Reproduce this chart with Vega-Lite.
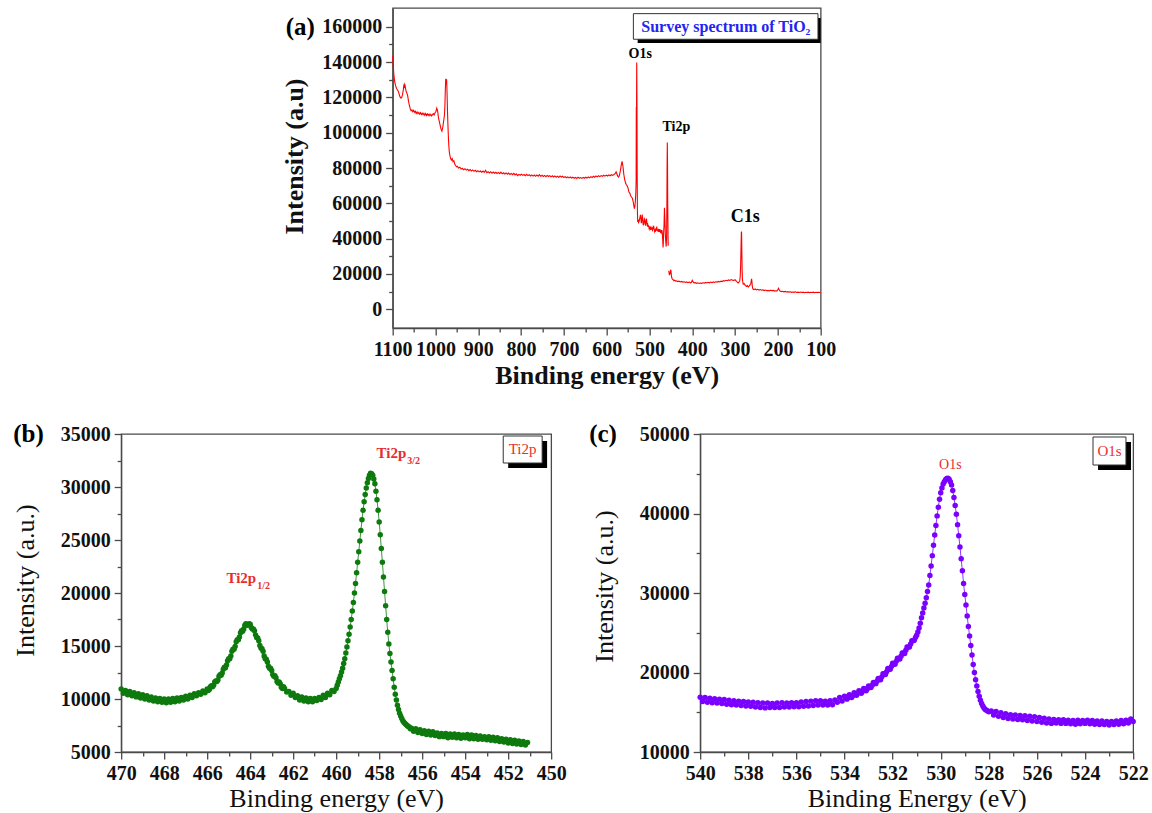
{
"$schema":"https://vega.github.io/schema/vega-lite/v6.json",
"background":"white",
"padding":{"left":11,"top":7,"right":0,"bottom":0},
"config":{
 "font":"Liberation Serif",
 "view":{"stroke":"#4a4a4a","strokeWidth":1.3},
 "axis":{"labelFont":"Liberation Serif","labelFontSize":20,"labelFontWeight":"bold","labelColor":"#111","titleFont":"Liberation Serif","titleColor":"#111","domainColor":"#4a4a4a","tickColor":"#4a4a4a","domainWidth":1.3,"tickWidth":1.3,"tickSize":7,"labelPadding":4,"grid":false,"labelFlush":false,"labelOverlap":false,"labelBound":false},
 "title":{"anchor":"start","frame":"group","offset":0,"baseline":"middle","font":"Liberation Serif","fontSize":25,"fontWeight":"bold","color":"#000"}
},
"datasets":{
"survey":[
{"E":1100,"I":143500,"s":1},{"E":1099,"I":139000,"s":1},{"E":1098,"I":135500,"s":1},{"E":1097,"I":132000,"s":1},{"E":1095,"I":128500,"s":1},{"E":1093,"I":126500,"s":1},{"E":1091,"I":125000,"s":1},{"E":1089,"I":124300,"s":1},{"E":1087,"I":123500,"s":1},{"E":1085,"I":122000,"s":1},{"E":1083,"I":120300,"s":1},{"E":1081,"I":119600,"s":1},{"E":1079,"I":119900,"s":1},{"E":1077,"I":121500,"s":1},{"E":1075,"I":124500,"s":1},{"E":1074,"I":126800,"s":1},{"E":1073,"I":127400,"s":1},{"E":1072,"I":126000,"s":1},{"E":1071,"I":126600,"s":1},{"E":1069,"I":123800,"s":1},{"E":1067,"I":122500,"s":1},{"E":1065,"I":121000,"s":1},{"E":1063,"I":117800,"s":1},{"E":1061,"I":115500,"s":1},{"E":1059,"I":113600,"s":1},{"E":1057,"I":112400,"s":1},{"E":1055,"I":112900,"s":1},{"E":1053,"I":111900,"s":1},{"E":1051,"I":112600,"s":1},{"E":1049,"I":111600,"s":1},{"E":1047,"I":112100,"s":1},{"E":1045,"I":110900,"s":1},{"E":1043,"I":111700,"s":1},{"E":1041,"I":110700,"s":1},{"E":1039,"I":111400,"s":1},{"E":1037,"I":110500,"s":1},{"E":1035,"I":111300,"s":1},{"E":1033,"I":110300,"s":1},{"E":1031,"I":111100,"s":1},{"E":1029,"I":110200,"s":1},{"E":1027,"I":110900,"s":1},{"E":1025,"I":109900,"s":1},{"E":1023,"I":110800,"s":1},{"E":1021,"I":109700,"s":1},{"E":1019,"I":110600,"s":1},{"E":1017,"I":109800,"s":1},{"E":1015,"I":110500,"s":1},{"E":1013,"I":109600,"s":1},{"E":1011,"I":110400,"s":1},{"E":1009,"I":109500,"s":1},{"E":1007,"I":110200,"s":1},{"E":1005,"I":110800,"s":1},{"E":1003,"I":110100,"s":1},{"E":1001,"I":111300,"s":1},{"E":999,"I":112000,"s":1},{"E":997,"I":113800,"s":1},{"E":995,"I":112300,"s":1},{"E":993,"I":108500,"s":1},{"E":991,"I":106300,"s":1},{"E":989,"I":104200,"s":1},{"E":987,"I":102000,"s":1},{"E":985,"I":100800,"s":1},{"E":983,"I":103000,"s":1},{"E":981,"I":106500,"s":1},{"E":979,"I":110000,"s":1},{"E":978,"I":115000,"s":1},{"E":977,"I":124000,"s":1},{"E":976,"I":130500,"s":1},{"E":975,"I":127500,"s":1},{"E":974,"I":130200,"s":1},{"E":973,"I":123000,"s":1},{"E":972,"I":113000,"s":1},{"E":971,"I":105000,"s":1},{"E":970,"I":98500,"s":1},{"E":969,"I":93500,"s":1},{"E":968,"I":90000,"s":1},{"E":967,"I":88000,"s":1},{"E":965,"I":85600,"s":1},{"E":963,"I":84500,"s":1},{"E":961,"I":85300,"s":1},{"E":959,"I":83600,"s":1},{"E":957,"I":84100,"s":1},{"E":955,"I":82200,"s":1},{"E":953,"I":81400,"s":1},{"E":951,"I":80700,"s":1},{"E":949,"I":81000,"s":1},{"E":946,"I":80000,"s":1},{"E":943,"I":80400,"s":1},{"E":940,"I":79400,"s":1},{"E":937,"I":79800,"s":1},{"E":934,"I":79000,"s":1},{"E":931,"I":79600,"s":1},{"E":928,"I":78800,"s":1},{"E":925,"I":79300,"s":1},{"E":922,"I":78500,"s":1},{"E":919,"I":79100,"s":1},{"E":916,"I":78300,"s":1},{"E":913,"I":78900,"s":1},{"E":910,"I":78100,"s":1},{"E":907,"I":78700,"s":1},{"E":904,"I":77900,"s":1},{"E":901,"I":78500,"s":1},{"E":898,"I":77800,"s":1},{"E":895,"I":78300,"s":1},{"E":892,"I":77600,"s":1},{"E":889,"I":78300,"s":1},{"E":886,"I":77500,"s":1},{"E":883,"I":78700,"s":1},{"E":880,"I":77300,"s":1},{"E":877,"I":77900,"s":1},{"E":874,"I":77200,"s":1},{"E":871,"I":77900,"s":1},{"E":868,"I":77100,"s":1},{"E":865,"I":77700,"s":1},{"E":862,"I":77000,"s":1},{"E":859,"I":77600,"s":1},{"E":856,"I":76900,"s":1},{"E":853,"I":77500,"s":1},{"E":850,"I":76800,"s":1},{"E":847,"I":77700,"s":1},{"E":844,"I":76700,"s":1},{"E":841,"I":77300,"s":1},{"E":838,"I":76600,"s":1},{"E":835,"I":77200,"s":1},{"E":832,"I":76500,"s":1},{"E":829,"I":77100,"s":1},{"E":826,"I":76300,"s":1},{"E":823,"I":76900,"s":1},{"E":820,"I":76200,"s":1},{"E":817,"I":77000,"s":1},{"E":814,"I":76100,"s":1},{"E":811,"I":76700,"s":1},{"E":808,"I":75700,"s":1},{"E":805,"I":76400,"s":1},{"E":802,"I":75900,"s":1},{"E":799,"I":76500,"s":1},{"E":796,"I":75800,"s":1},{"E":793,"I":76300,"s":1},{"E":790,"I":75600,"s":1},{"E":787,"I":76400,"s":1},{"E":784,"I":75700,"s":1},{"E":781,"I":76200,"s":1},{"E":778,"I":75500,"s":1},{"E":775,"I":76100,"s":1},{"E":772,"I":75400,"s":1},{"E":769,"I":76000,"s":1},{"E":766,"I":75300,"s":1},{"E":763,"I":76000,"s":1},{"E":760,"I":75400,"s":1},{"E":757,"I":76200,"s":1},{"E":754,"I":75300,"s":1},{"E":751,"I":75900,"s":1},{"E":748,"I":75200,"s":1},{"E":745,"I":75800,"s":1},{"E":742,"I":75100,"s":1},{"E":739,"I":75800,"s":1},{"E":736,"I":75200,"s":1},{"E":733,"I":75700,"s":1},{"E":730,"I":75000,"s":1},{"E":727,"I":75600,"s":1},{"E":724,"I":74900,"s":1},{"E":721,"I":75500,"s":1},{"E":718,"I":74800,"s":1},{"E":715,"I":75400,"s":1},{"E":712,"I":74700,"s":1},{"E":709,"I":75500,"s":1},{"E":706,"I":74900,"s":1},{"E":703,"I":75300,"s":1},{"E":700,"I":74600,"s":1},{"E":697,"I":75100,"s":1},{"E":694,"I":74500,"s":1},{"E":691,"I":75000,"s":1},{"E":688,"I":74400,"s":1},{"E":685,"I":74900,"s":1},{"E":682,"I":74300,"s":1},{"E":679,"I":74800,"s":1},{"E":676,"I":74200,"s":1},{"E":673,"I":74700,"s":1},{"E":670,"I":74100,"s":1},{"E":667,"I":74800,"s":1},{"E":664,"I":74200,"s":1},{"E":661,"I":74600,"s":1},{"E":658,"I":74100,"s":1},{"E":655,"I":74700,"s":1},{"E":652,"I":74200,"s":1},{"E":649,"I":74800,"s":1},{"E":646,"I":74300,"s":1},{"E":643,"I":74900,"s":1},{"E":640,"I":74400,"s":1},{"E":637,"I":75100,"s":1},{"E":634,"I":74600,"s":1},{"E":631,"I":75300,"s":1},{"E":628,"I":74800,"s":1},{"E":625,"I":75500,"s":1},{"E":622,"I":75000,"s":1},{"E":619,"I":75600,"s":1},{"E":616,"I":75100,"s":1},{"E":613,"I":75700,"s":1},{"E":610,"I":75300,"s":1},{"E":607,"I":75900,"s":1},{"E":604,"I":75400,"s":1},{"E":601,"I":76000,"s":1},{"E":598,"I":75500,"s":1},{"E":595,"I":76100,"s":1},{"E":592,"I":75600,"s":1},{"E":589,"I":76200,"s":1},{"E":586,"I":75800,"s":1},{"E":583,"I":76300,"s":1},{"E":580,"I":76900,"s":1},{"E":578,"I":77800,"s":1},{"E":576,"I":76600,"s":1},{"E":574,"I":75300,"s":1},{"E":572,"I":74900,"s":1},{"E":570,"I":76000,"s":1},{"E":568,"I":78500,"s":1},{"E":566,"I":81500,"s":1},{"E":564,"I":83800,"s":1},{"E":562,"I":81000,"s":1},{"E":560,"I":76500,"s":1},{"E":558,"I":73500,"s":1},{"E":556,"I":71600,"s":1},{"E":554,"I":70500,"s":1},{"E":552,"I":69800,"s":1},{"E":550,"I":68600,"s":1},{"E":548,"I":66400,"s":1},{"E":546,"I":65800,"s":1},{"E":544,"I":64300,"s":1},{"E":542,"I":63600,"s":1},{"E":540,"I":62900,"s":1},{"E":538,"I":60800,"s":1},{"E":536,"I":57800,"s":1},{"E":535,"I":57000,"s":1},{"E":534,"I":58500,"s":1},{"E":533,"I":61000,"s":1},{"E":532,"I":65500,"s":1},{"E":531.2,"I":72000,"s":1},{"E":530.8,"I":114500,"s":1},{"E":530.4,"I":99000,"s":1},{"E":529.8,"I":139800,"s":1},{"E":529.3,"I":121000,"s":1},{"E":528.8,"I":82000,"s":1},{"E":528.2,"I":56000,"s":1},{"E":527.5,"I":49500,"s":1},{"E":526.5,"I":50800,"s":1},{"E":525.5,"I":49200,"s":1},{"E":524,"I":50000,"s":1},{"E":522.5,"I":51800,"s":1},{"E":521,"I":53500,"s":1},{"E":520,"I":51200,"s":1},{"E":519,"I":48700,"s":1},{"E":518,"I":50200,"s":1},{"E":517,"I":53600,"s":1},{"E":516,"I":51500,"s":1},{"E":515,"I":48400,"s":1},{"E":514,"I":47600,"s":1},{"E":513,"I":49300,"s":1},{"E":512,"I":51200,"s":1},{"E":511,"I":50700,"s":1},{"E":510,"I":48300,"s":1},{"E":509,"I":47400,"s":1},{"E":508,"I":49800,"s":1},{"E":507,"I":51400,"s":1},{"E":506,"I":49200,"s":1},{"E":505,"I":47600,"s":1},{"E":504,"I":48100,"s":1},{"E":503,"I":46700,"s":1},{"E":502,"I":47600,"s":1},{"E":501,"I":45900,"s":1},{"E":500,"I":46400,"s":1},{"E":499,"I":45300,"s":1},{"E":498,"I":46100,"s":1},{"E":497,"I":45000,"s":1},{"E":496,"I":46200,"s":1},{"E":495,"I":45600,"s":1},{"E":494,"I":45900,"s":1},{"E":493,"I":44800,"s":1},{"E":492,"I":45500,"s":1},{"E":491,"I":47000,"s":1},{"E":490,"I":46800,"s":1},{"E":489,"I":45200,"s":1},{"E":488,"I":44000,"s":1},{"E":487,"I":44700,"s":1},{"E":486,"I":43900,"s":1},{"E":485,"I":45800,"s":1},{"E":484,"I":44600,"s":1},{"E":483,"I":46800,"s":1},{"E":482,"I":44500,"s":1},{"E":481,"I":45300,"s":1},{"E":480,"I":43900,"s":1},{"E":479,"I":44900,"s":1},{"E":478,"I":44400,"s":1},{"E":477,"I":45400,"s":1},{"E":476,"I":43800,"s":1},{"E":475,"I":44600,"s":1},{"E":474,"I":43700,"s":1},{"E":473,"I":44200,"s":1},{"E":472,"I":43500,"s":1},{"E":471,"I":44800,"s":1},{"E":470,"I":43000,"s":1},{"E":469,"I":39000,"s":1},{"E":468.3,"I":35000,"s":1},{"E":467.6,"I":37500,"s":1},{"E":467,"I":43000,"s":1},{"E":466,"I":47500,"s":1},{"E":465,"I":57500,"s":1},{"E":464,"I":50500,"s":1},{"E":463,"I":42500,"s":1},{"E":462,"I":38500,"s":1},{"E":461,"I":35500,"s":1},{"E":460,"I":40500,"s":1},{"E":459.4,"I":56000,"s":1},{"E":458.9,"I":79000,"s":1},{"E":458.3,"I":94500,"s":1},{"E":457.8,"I":81000,"s":1},{"E":457.4,"I":60000,"s":1},{"E":457,"I":52500,"s":1},{"E":456.6,"I":40500,"s":1},{"E":456.3,"I":36000,"s":1},
{"E":455,"I":21800,"s":2},{"E":454.2,"I":20600,"s":2},{"E":453.5,"I":19600,"s":2},{"E":452.6,"I":19800,"s":2},{"E":451.5,"I":21000,"s":2},{"E":450.5,"I":22400,"s":2},{"E":449.8,"I":21800,"s":2},{"E":449,"I":19500,"s":2},{"E":448,"I":18000,"s":2},{"E":447,"I":17300,"s":2},{"E":446,"I":16900,"s":2},{"E":444.5,"I":16700,"s":2},{"E":443,"I":16200,"s":2},{"E":441,"I":16500,"s":2},{"E":439,"I":15900,"s":2},{"E":437,"I":16100,"s":2},{"E":434,"I":15700,"s":2},{"E":431,"I":15900,"s":2},{"E":428,"I":15500,"s":2},{"E":425,"I":15800,"s":2},{"E":422,"I":15400,"s":2},{"E":419,"I":15600,"s":2},{"E":416,"I":15200,"s":2},{"E":413,"I":15500,"s":2},{"E":410,"I":15100,"s":2},{"E":407,"I":15400,"s":2},{"E":404,"I":15000,"s":2},{"E":402,"I":15300,"s":2},{"E":400,"I":16400,"s":2},{"E":398,"I":15500,"s":2},{"E":396,"I":14900,"s":2},{"E":393,"I":15100,"s":2},{"E":390,"I":14700,"s":2},{"E":387,"I":15000,"s":2},{"E":384,"I":14600,"s":2},{"E":381,"I":14900,"s":2},{"E":378,"I":14700,"s":2},{"E":375,"I":15000,"s":2},{"E":372,"I":14800,"s":2},{"E":369,"I":15200,"s":2},{"E":366,"I":14900,"s":2},{"E":363,"I":15300,"s":2},{"E":360,"I":15000,"s":2},{"E":357,"I":15400,"s":2},{"E":354,"I":15100,"s":2},{"E":351,"I":15500,"s":2},{"E":348,"I":15200,"s":2},{"E":345,"I":15600,"s":2},{"E":342,"I":15400,"s":2},{"E":339,"I":15800,"s":2},{"E":336,"I":15500,"s":2},{"E":333,"I":15900,"s":2},{"E":330,"I":15700,"s":2},{"E":327,"I":16200,"s":2},{"E":324,"I":16000,"s":2},{"E":321,"I":16400,"s":2},{"E":318,"I":16200,"s":2},{"E":315,"I":16600,"s":2},{"E":312,"I":16300,"s":2},{"E":309,"I":16800,"s":2},{"E":306,"I":16500,"s":2},{"E":303,"I":16300,"s":2},{"E":300,"I":16700,"s":2},{"E":297,"I":16000,"s":2},{"E":295,"I":15400,"s":2},{"E":293,"I":14900,"s":2},{"E":291,"I":15400,"s":2},{"E":289,"I":16200,"s":2},{"E":288,"I":18500,"s":2},{"E":287,"I":25000,"s":2},{"E":286,"I":36000,"s":2},{"E":285.3,"I":44000,"s":2},{"E":284.8,"I":43500,"s":2},{"E":284.2,"I":33000,"s":2},{"E":283.5,"I":22000,"s":2},{"E":282.8,"I":17000,"s":2},{"E":282,"I":15500,"s":2},{"E":281,"I":14300,"s":2},{"E":279,"I":14600,"s":2},{"E":277,"I":13800,"s":2},{"E":275,"I":13300,"s":2},{"E":273,"I":12900,"s":2},{"E":271,"I":13400,"s":2},{"E":269,"I":12700,"s":2},{"E":267,"I":13100,"s":2},{"E":265,"I":13800,"s":2},{"E":263,"I":14800,"s":2},{"E":262,"I":16500,"s":2},{"E":261.4,"I":17200,"s":2},{"E":260.6,"I":15500,"s":2},{"E":259.8,"I":13200,"s":2},{"E":259,"I":12000,"s":2},{"E":257.5,"I":11300,"s":2},{"E":256,"I":11100,"s":2},{"E":253,"I":11500,"s":2},{"E":250,"I":11000,"s":2},{"E":247,"I":11300,"s":2},{"E":244,"I":10900,"s":2},{"E":241,"I":11200,"s":2},{"E":238,"I":10800,"s":2},{"E":235,"I":11000,"s":2},{"E":232,"I":10600,"s":2},{"E":229,"I":10900,"s":2},{"E":226,"I":10500,"s":2},{"E":223,"I":10700,"s":2},{"E":220,"I":10400,"s":2},{"E":217,"I":10800,"s":2},{"E":214,"I":10500,"s":2},{"E":211,"I":10700,"s":2},{"E":208,"I":10300,"s":2},{"E":205,"I":10500,"s":2},{"E":202,"I":10400,"s":2},{"E":200,"I":11200,"s":2},{"E":198.5,"I":11900,"s":2},{"E":197,"I":11000,"s":2},{"E":195,"I":10300,"s":2},{"E":192,"I":10000,"s":2},{"E":189,"I":10200,"s":2},{"E":186,"I":9900,"s":2},{"E":183,"I":10100,"s":2},{"E":180,"I":9800,"s":2},{"E":177,"I":10000,"s":2},{"E":174,"I":9700,"s":2},{"E":171,"I":9900,"s":2},{"E":168,"I":9600,"s":2},{"E":165,"I":9800,"s":2},{"E":162,"I":9600,"s":2},{"E":159,"I":9900,"s":2},{"E":156,"I":9500,"s":2},{"E":153,"I":9700,"s":2},{"E":150,"I":9500,"s":2},{"E":147,"I":9800,"s":2},{"E":144,"I":9500,"s":2},{"E":141,"I":9700,"s":2},{"E":138,"I":9400,"s":2},{"E":135,"I":9600,"s":2},{"E":132,"I":9500,"s":2},{"E":129,"I":9700,"s":2},{"E":126,"I":9400,"s":2},{"E":123,"I":9600,"s":2},{"E":120,"I":9500,"s":2},{"E":117,"I":9700,"s":2},{"E":114,"I":9400,"s":2},{"E":111,"I":9600,"s":2},{"E":108,"I":9500,"s":2},{"E":105,"I":9600,"s":2},{"E":102,"I":9500,"s":2},{"E":100,"I":9600,"s":2}
],
"ti2p":[
{"E":470.0,"I":10950},{"E":469.9,"I":10550},{"E":469.8,"I":10800},{"E":469.7,"I":10400},{"E":469.6,"I":10700},{"E":469.5,"I":10300},{"E":469.4,"I":10600},{"E":469.3,"I":10200},{"E":469.2,"I":10500},{"E":469.1,"I":10100},{"E":469.0,"I":10400},{"E":468.9,"I":10000},{"E":468.8,"I":10300},{"E":468.7,"I":9900},{"E":468.6,"I":10200},{"E":468.5,"I":9800},{"E":468.4,"I":10100},{"E":468.3,"I":9750},{"E":468.2,"I":10050},{"E":468.1,"I":9700},{"E":468.0,"I":10000},{"E":467.9,"I":9650},{"E":467.8,"I":10000},{"E":467.7,"I":9700},{"E":467.6,"I":10050},{"E":467.5,"I":9750},{"E":467.4,"I":10100},{"E":467.3,"I":9800},{"E":467.2,"I":10150},{"E":467.1,"I":9900},{"E":467.0,"I":10250},{"E":466.9,"I":10000},{"E":466.8,"I":10350},{"E":466.7,"I":10150},{"E":466.6,"I":10500},{"E":466.5,"I":10300},{"E":466.4,"I":10600},{"E":466.3,"I":10450},{"E":466.2,"I":10750},{"E":466.1,"I":10600},{"E":466.0,"I":10950},{"E":465.9,"I":10900},{"E":465.8,"I":11250},{"E":465.7,"I":11300},{"E":465.6,"I":11700},{"E":465.5,"I":11800},{"E":465.4,"I":12300},{"E":465.3,"I":12450},{"E":465.2,"I":13000},{"E":465.1,"I":13200},{"E":465.0,"I":13800},{"E":464.9,"I":14050},{"E":464.8,"I":14700},{"E":464.7,"I":14950},{"E":464.6,"I":15600},{"E":464.5,"I":15850},{"E":464.4,"I":16450},{"E":464.3,"I":16600},{"E":464.2,"I":17100},{"E":464.1,"I":17000},{"E":464.0,"I":17050},{"E":463.9,"I":16600},{"E":463.8,"I":16450},{"E":463.7,"I":15800},{"E":463.6,"I":15500},{"E":463.5,"I":14800},{"E":463.4,"I":14500},{"E":463.3,"I":13800},{"E":463.2,"I":13500},{"E":463.1,"I":12900},{"E":463.0,"I":12700},{"E":462.9,"I":12150},{"E":462.8,"I":12000},{"E":462.7,"I":11500},{"E":462.6,"I":11450},{"E":462.5,"I":11000},{"E":462.4,"I":11000},{"E":462.3,"I":10650},{"E":462.2,"I":10700},{"E":462.1,"I":10350},{"E":462.0,"I":10550},{"E":461.9,"I":10150},{"E":461.8,"I":10300},{"E":461.7,"I":9900},{"E":461.6,"I":10200},{"E":461.5,"I":9800},{"E":461.4,"I":10100},{"E":461.3,"I":9750},{"E":461.2,"I":10050},{"E":461.1,"I":9750},{"E":461.0,"I":10050},{"E":460.9,"I":9850},{"E":460.8,"I":10150},{"E":460.7,"I":9950},{"E":460.6,"I":10350},{"E":460.5,"I":10150},{"E":460.4,"I":10550},{"E":460.3,"I":10400},{"E":460.2,"I":10800},{"E":460.1,"I":10700},{"E":460.0,"I":11000},{"E":459.95,"I":11300},{"E":459.9,"I":11600},{"E":459.85,"I":11900},{"E":459.8,"I":12200},{"E":459.75,"I":12550},{"E":459.7,"I":12900},{"E":459.65,"I":13350},{"E":459.6,"I":13800},{"E":459.55,"I":14350},{"E":459.5,"I":14900},{"E":459.45,"I":15500},{"E":459.4,"I":16100},{"E":459.35,"I":16800},{"E":459.3,"I":17500},{"E":459.25,"I":18300},{"E":459.2,"I":19100},{"E":459.15,"I":20000},{"E":459.1,"I":20900},{"E":459.05,"I":21900},{"E":459.0,"I":22900},{"E":458.95,"I":23900},{"E":458.9,"I":24900},{"E":458.85,"I":25900},{"E":458.8,"I":26900},{"E":458.75,"I":27800},{"E":458.7,"I":28600},{"E":458.65,"I":29300},{"E":458.6,"I":29900},{"E":458.55,"I":30400},{"E":458.5,"I":30800},{"E":458.45,"I":31100},{"E":458.4,"I":31300},{"E":458.35,"I":31250},{"E":458.3,"I":31100},{"E":458.25,"I":30750},{"E":458.2,"I":30300},{"E":458.15,"I":29600},{"E":458.1,"I":28800},{"E":458.05,"I":27800},{"E":458.0,"I":26700},{"E":457.95,"I":25500},{"E":457.9,"I":24200},{"E":457.85,"I":22900},{"E":457.8,"I":21500},{"E":457.75,"I":20150},{"E":457.7,"I":18800},{"E":457.65,"I":17500},{"E":457.6,"I":16300},{"E":457.55,"I":15200},{"E":457.5,"I":14300},{"E":457.45,"I":13500},{"E":457.4,"I":12700},{"E":457.35,"I":11900},{"E":457.3,"I":11100},{"E":457.25,"I":10450},{"E":457.2,"I":9900},{"E":457.15,"I":9400},{"E":457.1,"I":9000},{"E":457.05,"I":8650},{"E":457.0,"I":8400},{"E":456.95,"I":8150},{"E":456.9,"I":7950},{"E":456.85,"I":7800},{"E":456.8,"I":7700},{"E":456.75,"I":7600},{"E":456.7,"I":7500},{"E":456.65,"I":7400},{"E":456.6,"I":7350},{"E":456.55,"I":7200},{"E":456.5,"I":7250},{"E":456.4,"I":6950},{"E":456.3,"I":7200},{"E":456.2,"I":6850},{"E":456.1,"I":7100},{"E":456.0,"I":6750},{"E":455.9,"I":7000},{"E":455.8,"I":6650},{"E":455.7,"I":6950},{"E":455.6,"I":6600},{"E":455.5,"I":6900},{"E":455.4,"I":6550},{"E":455.3,"I":6800},{"E":455.2,"I":6450},{"E":455.1,"I":6750},{"E":455.0,"I":6450},{"E":454.9,"I":6750},{"E":454.8,"I":6350},{"E":454.7,"I":6700},{"E":454.6,"I":6400},{"E":454.5,"I":6700},{"E":454.4,"I":6350},{"E":454.3,"I":6650},{"E":454.2,"I":6300},{"E":454.1,"I":6600},{"E":454.0,"I":6350},{"E":453.9,"I":6650},{"E":453.8,"I":6250},{"E":453.7,"I":6600},{"E":453.6,"I":6250},{"E":453.5,"I":6550},{"E":453.4,"I":6200},{"E":453.3,"I":6500},{"E":453.2,"I":6200},{"E":453.1,"I":6450},{"E":453.0,"I":6150},{"E":452.9,"I":6450},{"E":452.8,"I":6100},{"E":452.7,"I":6400},{"E":452.6,"I":6050},{"E":452.5,"I":6350},{"E":452.4,"I":6000},{"E":452.3,"I":6250},{"E":452.2,"I":5950},{"E":452.1,"I":6200},{"E":452.0,"I":5850},{"E":451.9,"I":6150},{"E":451.8,"I":5800},{"E":451.7,"I":6100},{"E":451.6,"I":5750},{"E":451.5,"I":6050},{"E":451.4,"I":5700},{"E":451.3,"I":6000},{"E":451.2,"I":5650},{"E":451.1,"I":5900},
{"E":465.95,"I":10800},{"E":465.85,"I":11150},{"E":465.75,"I":11150},{"E":465.65,"I":11600},{"E":465.55,"I":11650},{"E":465.45,"I":12150},{"E":465.35,"I":12250},{"E":465.25,"I":12800},{"E":465.15,"I":12950},{"E":465.05,"I":13600},{"E":464.95,"I":13800},{"E":464.85,"I":14500},{"E":464.75,"I":14700},{"E":464.65,"I":15400},{"E":464.55,"I":15600},{"E":464.45,"I":16250},{"E":464.35,"I":16400},{"E":464.25,"I":16950},{"E":464.15,"I":16950},{"E":464.05,"I":17100},{"E":463.95,"I":16750},{"E":463.85,"I":16600},{"E":463.75,"I":16050},{"E":463.65,"I":15750},{"E":463.55,"I":15050},{"E":463.45,"I":14750},{"E":463.35,"I":14050},{"E":463.25,"I":13750},{"E":463.15,"I":13100},{"E":463.05,"I":12900},{"E":462.95,"I":12300},{"E":462.85,"I":12200},{"E":462.75,"I":11650},{"E":462.65,"I":11600},{"E":462.55,"I":11100},{"E":462.45,"I":11150}
],
"o1s":[
{"E":540.0,"I":16900},{"E":539.9,"I":16350},{"E":539.8,"I":16850},{"E":539.7,"I":16250},{"E":539.6,"I":16750},{"E":539.5,"I":16200},{"E":539.4,"I":16700},{"E":539.3,"I":16150},{"E":539.2,"I":16650},{"E":539.1,"I":16100},{"E":539.0,"I":16600},{"E":538.9,"I":16000},{"E":538.8,"I":16500},{"E":538.7,"I":15950},{"E":538.6,"I":16450},{"E":538.5,"I":15900},{"E":538.4,"I":16400},{"E":538.3,"I":15850},{"E":538.2,"I":16350},{"E":538.1,"I":15800},{"E":538.0,"I":16300},{"E":537.9,"I":15750},{"E":537.8,"I":16250},{"E":537.7,"I":15650},{"E":537.6,"I":16200},{"E":537.5,"I":15600},{"E":537.4,"I":16150},{"E":537.3,"I":15550},{"E":537.2,"I":16150},{"E":537.1,"I":15600},{"E":537.0,"I":16100},{"E":536.9,"I":15600},{"E":536.8,"I":16150},{"E":536.7,"I":15600},{"E":536.6,"I":16200},{"E":536.5,"I":15650},{"E":536.4,"I":16150},{"E":536.3,"I":15650},{"E":536.2,"I":16200},{"E":536.1,"I":15700},{"E":536.0,"I":16200},{"E":535.9,"I":15700},{"E":535.8,"I":16300},{"E":535.7,"I":15750},{"E":535.6,"I":16350},{"E":535.5,"I":15800},{"E":535.4,"I":16400},{"E":535.3,"I":15850},{"E":535.2,"I":16450},{"E":535.1,"I":15900},{"E":535.0,"I":16450},{"E":534.9,"I":15900},{"E":534.8,"I":16400},{"E":534.7,"I":15900},{"E":534.6,"I":16450},{"E":534.5,"I":15950},{"E":534.4,"I":16550},{"E":534.3,"I":16250},{"E":534.2,"I":16850},{"E":534.1,"I":16400},{"E":534.0,"I":17000},{"E":533.9,"I":16650},{"E":533.8,"I":17200},{"E":533.7,"I":16850},{"E":533.6,"I":17450},{"E":533.5,"I":17150},{"E":533.4,"I":17700},{"E":533.3,"I":17400},{"E":533.2,"I":18000},{"E":533.1,"I":17700},{"E":533.0,"I":18300},{"E":532.9,"I":18100},{"E":532.8,"I":18750},{"E":532.7,"I":18600},{"E":532.6,"I":19250},{"E":532.5,"I":19100},{"E":532.4,"I":19850},{"E":532.3,"I":19750},{"E":532.2,"I":20500},{"E":532.1,"I":20400},{"E":532.0,"I":21150},{"E":531.9,"I":21050},{"E":531.8,"I":21800},{"E":531.7,"I":21700},{"E":531.6,"I":22450},{"E":531.5,"I":22400},{"E":531.4,"I":23200},{"E":531.3,"I":23200},{"E":531.2,"I":24000},{"E":531.1,"I":24050},{"E":531.0,"I":24700},{"E":530.95,"I":25100},{"E":530.9,"I":25600},{"E":530.85,"I":26200},{"E":530.8,"I":26900},{"E":530.75,"I":27500},{"E":530.7,"I":28100},{"E":530.65,"I":28700},{"E":530.6,"I":29400},{"E":530.55,"I":30200},{"E":530.5,"I":31000},{"E":530.45,"I":32200},{"E":530.4,"I":33400},{"E":530.35,"I":34700},{"E":530.3,"I":36000},{"E":530.25,"I":37300},{"E":530.2,"I":38500},{"E":530.15,"I":39700},{"E":530.1,"I":40800},{"E":530.05,"I":41800},{"E":530.0,"I":42600},{"E":529.95,"I":43200},{"E":529.9,"I":43700},{"E":529.85,"I":44000},{"E":529.8,"I":44250},{"E":529.75,"I":44400},{"E":529.7,"I":44450},{"E":529.65,"I":44300},{"E":529.6,"I":44000},{"E":529.55,"I":43600},{"E":529.5,"I":42900},{"E":529.45,"I":42000},{"E":529.4,"I":41000},{"E":529.35,"I":39900},{"E":529.3,"I":38600},{"E":529.25,"I":37200},{"E":529.2,"I":35800},{"E":529.15,"I":34300},{"E":529.1,"I":32800},{"E":529.05,"I":31200},{"E":529.0,"I":29800},{"E":528.95,"I":28500},{"E":528.9,"I":27100},{"E":528.85,"I":25800},{"E":528.8,"I":24600},{"E":528.75,"I":23400},{"E":528.7,"I":22200},{"E":528.65,"I":21000},{"E":528.6,"I":20000},{"E":528.55,"I":19100},{"E":528.5,"I":18300},{"E":528.45,"I":17600},{"E":528.4,"I":17000},{"E":528.35,"I":16500},{"E":528.3,"I":16100},{"E":528.25,"I":15800},{"E":528.2,"I":15550},{"E":528.15,"I":15350},{"E":528.1,"I":15250},{"E":528.05,"I":15150},{"E":528.0,"I":15050},{"E":527.9,"I":15150},{"E":527.8,"I":14650},{"E":527.7,"I":15100},{"E":527.6,"I":14500},{"E":527.5,"I":14950},{"E":527.4,"I":14350},{"E":527.3,"I":14800},{"E":527.2,"I":14200},{"E":527.1,"I":14700},{"E":527.0,"I":14150},{"E":526.9,"I":14650},{"E":526.8,"I":14100},{"E":526.7,"I":14600},{"E":526.6,"I":14050},{"E":526.5,"I":14550},{"E":526.4,"I":13950},{"E":526.3,"I":14500},{"E":526.2,"I":13900},{"E":526.1,"I":14450},{"E":526.0,"I":13850},{"E":525.9,"I":14350},{"E":525.8,"I":13750},{"E":525.7,"I":14250},{"E":525.6,"I":13650},{"E":525.5,"I":14150},{"E":525.4,"I":13600},{"E":525.3,"I":14100},{"E":525.2,"I":13650},{"E":525.1,"I":14050},{"E":525.0,"I":13600},{"E":524.9,"I":14050},{"E":524.8,"I":13600},{"E":524.7,"I":14000},{"E":524.6,"I":13550},{"E":524.5,"I":13950},{"E":524.4,"I":13500},{"E":524.3,"I":14000},{"E":524.2,"I":13550},{"E":524.1,"I":13950},{"E":524.0,"I":13600},{"E":523.9,"I":14000},{"E":523.8,"I":13550},{"E":523.7,"I":13950},{"E":523.6,"I":13500},{"E":523.5,"I":13900},{"E":523.4,"I":13450},{"E":523.3,"I":13900},{"E":523.2,"I":13450},{"E":523.1,"I":13850},{"E":523.0,"I":13400},{"E":522.9,"I":13850},{"E":522.8,"I":13450},{"E":522.7,"I":13900},{"E":522.6,"I":13500},{"E":522.5,"I":13950},{"E":522.4,"I":13550},{"E":522.3,"I":14000},{"E":522.2,"I":13650},{"E":522.1,"I":14150},{"E":522.0,"I":13850},
{"E":533.95,"I":16900},{"E":533.85,"I":16850},{"E":533.75,"I":17100},{"E":533.65,"I":17100},{"E":533.55,"I":17350},{"E":533.45,"I":17400},{"E":533.35,"I":17600},{"E":533.25,"I":17650},{"E":533.15,"I":17900},{"E":533.05,"I":17950},{"E":532.95,"I":18250},{"E":532.85,"I":18400},{"E":532.75,"I":18700},{"E":532.65,"I":18900},{"E":532.55,"I":19200},{"E":532.45,"I":19450},{"E":532.35,"I":19850},{"E":532.25,"I":20100},{"E":532.15,"I":20450},{"E":532.05,"I":20750},{"E":531.95,"I":21100},{"E":531.85,"I":21400},{"E":531.75,"I":21750},{"E":531.65,"I":22050},{"E":531.55,"I":22450},{"E":531.45,"I":22800},{"E":531.35,"I":23200},{"E":531.25,"I":23600},{"E":531.15,"I":24000},{"E":531.05,"I":24400}
],
"boxA":[{"SE1":527.6,"SE2":100,"SI1":165000,"SI2":150800,"BE1":537.6,"BE2":106.3,"BI1":167400,"BI2":152900,"TE":321.5,"TI":157200,"label":"Survey spectrum of TiO₂"}],
"labA":[{"E":521.5,"I":142500,"label":"O1s","big":false},{"E":437.1,"I":101000,"label":"Ti2p","big":false},{"E":276,"I":49700,"label":"C1s","big":true}],
"boxB":[{"SE1":452.0,"SE2":450.19,"SI1":34340,"SI2":31792,"BE1":452.23,"BE2":450.42,"BI1":34811,"BI2":32264,"TE":451.33,"TI":33540,"label":"Ti2p"}],
"labB":[{"E":456.74,"I":32736,"main":"Ti2p","sub":"3/2"},{"E":463.72,"I":20990,"main":"Ti2p","sub":"1/2"}],
"boxC":[{"SE1":523.46,"SE2":522.09,"SI1":48994,"SI2":45471,"BE1":523.67,"BE2":522.3,"BI1":49623,"BI2":46100,"TE":522.98,"TI":47860,"label":"O1s"}],
"labC":[{"E":529.6,"I":45622,"label":"O1s"}]
},
"center":true,
"spacing":32,
"vconcat":[
{
 "width":428,"height":320,
 "title":{"text":"(a)","dx":-107,"dy":36},
 "resolve":{"axis":{"x":"independent","y":"independent"}},
 "layer":[
  {"data":{"name":"survey"},"mark":{"type":"line","color":"#ff0000","strokeWidth":1.1},
   "encoding":{
    "x":{"field":"E","type":"quantitative","scale":{"domain":[100,1100],"reverse":true,"nice":false,"zero":false},
         "axis":{"orient":"bottom","values":[100,200,300,400,500,600,700,800,900,1000,1100],"format":"d","title":"Binding energy (eV)","titleFontSize":26,"titleFontWeight":"bold","titlePadding":3}},
    "y":{"field":"I","type":"quantitative","scale":{"domain":[-10600,170600],"nice":false,"zero":false},
         "axis":{"orient":"left","values":[0,20000,40000,60000,80000,100000,120000,140000,160000],"format":"d","title":"Intensity (a.u)","titleFontSize":26,"titleFontWeight":"bold","titlePadding":14,"titleY":148}},
    "detail":{"field":"s","type":"nominal"}}},
  {"data":{"name":"boxA"},"mark":{"type":"rect","color":"#000"},
   "encoding":{
    "x":{"field":"SE1","type":"quantitative","scale":{"domain":[100,1100],"reverse":true,"nice":false,"zero":false},
         "axis":{"orient":"bottom","values":[150,250,350,450,550,650,750,850,950,1050],"labels":false,"domain":false,"tickSize":4,"title":null}},
    "x2":{"field":"SE2"},
    "y":{"field":"SI1","type":"quantitative","scale":{"domain":[-10600,170600],"nice":false,"zero":false},
         "axis":{"orient":"left","values":[10000,30000,50000,70000,90000,110000,130000,150000],"labels":false,"domain":false,"tickSize":4,"title":null}},
    "y2":{"field":"SI2"}}},
  {"data":{"name":"boxA"},"mark":{"type":"rect","fill":"#fff","stroke":"#333","strokeWidth":1},
   "encoding":{
    "x":{"field":"BE1","type":"quantitative","scale":{"domain":[100,1100],"reverse":true,"nice":false,"zero":false},"axis":null},
    "x2":{"field":"BE2"},
    "y":{"field":"BI1","type":"quantitative","scale":{"domain":[-10600,170600],"nice":false,"zero":false},"axis":null},
    "y2":{"field":"BI2"}}},
  {"data":{"name":"boxA"},"mark":{"type":"text","color":"#2323f2","font":"Liberation Serif","fontWeight":"bold","fontSize":16,"align":"center","baseline":"alphabetic"},
   "encoding":{
    "x":{"field":"TE","type":"quantitative","scale":{"domain":[100,1100],"reverse":true,"nice":false,"zero":false},"axis":null},
    "y":{"field":"TI","type":"quantitative","scale":{"domain":[-10600,170600],"nice":false,"zero":false},
         "axis":{"orient":"right","values":[80000],"labels":false,"domain":false,"tickSize":56,"tickOpacity":0,"title":null}},
    "text":{"field":"label"}}},
  {"data":{"name":"labA"},"transform":[{"filter":"!datum.big"}],"mark":{"type":"text","color":"#000","font":"Liberation Serif","fontWeight":"bold","fontSize":14,"align":"center","baseline":"alphabetic"},
   "encoding":{
    "x":{"field":"E","type":"quantitative","scale":{"domain":[100,1100],"reverse":true,"nice":false,"zero":false},"axis":null},
    "y":{"field":"I","type":"quantitative","scale":{"domain":[-10600,170600],"nice":false,"zero":false},"axis":null},
    "text":{"field":"label"}}},
  {"data":{"name":"labA"},"transform":[{"filter":"datum.big"}],"mark":{"type":"text","color":"#000","font":"Liberation Serif","fontWeight":"bold","fontSize":18,"align":"center","baseline":"alphabetic"},
   "encoding":{
    "x":{"field":"E","type":"quantitative","scale":{"domain":[100,1100],"reverse":true,"nice":false,"zero":false},"axis":null},
    "y":{"field":"I","type":"quantitative","scale":{"domain":[-10600,170600],"nice":false,"zero":false},"axis":null},
    "text":{"field":"label"}}}
 ]
},
{
 "spacing":21,
 "hconcat":[
 {
  "width":430,"height":318,
  "title":{"text":"(b)","dx":-108,"dy":27},
  "resolve":{"axis":{"x":"independent","y":"independent"}},
  "layer":[
   {"data":{"name":"ti2p"},"mark":{"type":"line","color":"#0e7a0e","strokeWidth":0.8},
    "encoding":{
     "x":{"field":"E","type":"quantitative","scale":{"domain":[450,470],"reverse":true,"nice":false,"zero":false},
          "axis":{"orient":"bottom","values":[450,452,454,456,458,460,462,464,466,468,470],"format":"d","title":"Binding energy (eV)","titleFontSize":26,"titleFontWeight":"normal","titlePadding":2}},
     "y":{"field":"I","type":"quantitative","scale":{"domain":[5000,35000],"nice":false,"zero":false},
          "axis":{"orient":"left","values":[5000,10000,15000,20000,25000,30000,35000],"format":"d","title":"Intensity (a.u.)","titleFontSize":26,"titleFontWeight":"normal","titlePadding":22,"titleY":146}}}},
   {"data":{"name":"ti2p"},"mark":{"type":"circle","color":"#0e7a0e","size":30,"opacity":1},
    "encoding":{
     "x":{"field":"E","type":"quantitative","scale":{"domain":[450,470],"reverse":true,"nice":false,"zero":false},"axis":null},
     "y":{"field":"I","type":"quantitative","scale":{"domain":[5000,35000],"nice":false,"zero":false},"axis":null}}},
   {"data":{"name":"boxB"},"mark":{"type":"rect","color":"#000"},
    "encoding":{
     "x":{"field":"SE1","type":"quantitative","scale":{"domain":[450,470],"reverse":true,"nice":false,"zero":false},
          "axis":{"orient":"bottom","values":[451,453,455,457,459,461,463,465,467,469],"labels":false,"domain":false,"tickSize":4,"title":null}},
     "x2":{"field":"SE2"},
     "y":{"field":"SI1","type":"quantitative","scale":{"domain":[5000,35000],"nice":false,"zero":false},
          "axis":{"orient":"left","values":[7500,12500,17500,22500,27500,32500],"labels":false,"domain":false,"tickSize":4,"title":null}},
     "y2":{"field":"SI2"}}},
   {"data":{"name":"boxB"},"mark":{"type":"rect","fill":"#fff","stroke":"#333","strokeWidth":1},
    "encoding":{
     "x":{"field":"BE1","type":"quantitative","scale":{"domain":[450,470],"reverse":true,"nice":false,"zero":false},"axis":null},
     "x2":{"field":"BE2"},
     "y":{"field":"BI1","type":"quantitative","scale":{"domain":[5000,35000],"nice":false,"zero":false},"axis":null},
     "y2":{"field":"BI2"}}},
   {"data":{"name":"boxB"},"mark":{"type":"text","color":"#e62e2e","font":"Liberation Serif","fontSize":15,"align":"center","baseline":"middle"},
    "encoding":{
     "x":{"field":"TE","type":"quantitative","scale":{"domain":[450,470],"reverse":true,"nice":false,"zero":false},"axis":null},
     "y":{"field":"TI","type":"quantitative","scale":{"domain":[5000,35000],"nice":false,"zero":false},"axis":null},
     "text":{"field":"label"}}},
   {"data":{"name":"labB"},"mark":{"type":"text","color":"#e62e2e","font":"Liberation Serif","fontWeight":"bold","fontSize":15,"align":"right","baseline":"alphabetic"},
    "encoding":{
     "x":{"field":"E","type":"quantitative","scale":{"domain":[450,470],"reverse":true,"nice":false,"zero":false},"axis":null},
     "y":{"field":"I","type":"quantitative","scale":{"domain":[5000,35000],"nice":false,"zero":false},"axis":null},
     "text":{"field":"main"}}},
   {"data":{"name":"labB"},"mark":{"type":"text","color":"#e62e2e","font":"Liberation Serif","fontWeight":"bold","fontSize":10,"align":"left","baseline":"alphabetic","dx":1,"dy":6},
    "encoding":{
     "x":{"field":"E","type":"quantitative","scale":{"domain":[450,470],"reverse":true,"nice":false,"zero":false},"axis":null},
     "y":{"field":"I","type":"quantitative","scale":{"domain":[5000,35000],"nice":false,"zero":false},"axis":null},
     "text":{"field":"sub"}}}
  ]
 },
 {
  "width":433,"height":318,
  "title":{"text":"(c)","dx":-111,"dy":27},
  "resolve":{"axis":{"x":"independent","y":"independent"}},
  "layer":[
   {"data":{"name":"o1s"},"mark":{"type":"line","color":"#7a00ff","strokeWidth":0.8},
    "encoding":{
     "x":{"field":"E","type":"quantitative","scale":{"domain":[522,540],"reverse":true,"nice":false,"zero":false},
          "axis":{"orient":"bottom","values":[522,524,526,528,530,532,534,536,538,540],"format":"d","title":"Binding Energy (eV)","titleFontSize":26,"titleFontWeight":"normal","titlePadding":2}},
     "y":{"field":"I","type":"quantitative","scale":{"domain":[10000,50000],"nice":false,"zero":false},
          "axis":{"orient":"left","values":[10000,20000,30000,40000,50000],"format":"d","title":"Intensity (a.u.)","titleFontSize":26,"titleFontWeight":"normal","titlePadding":22,"titleY":152}}}},
   {"data":{"name":"o1s"},"mark":{"type":"circle","color":"#7a00ff","size":30,"opacity":1},
    "encoding":{
     "x":{"field":"E","type":"quantitative","scale":{"domain":[522,540],"reverse":true,"nice":false,"zero":false},"axis":null},
     "y":{"field":"I","type":"quantitative","scale":{"domain":[10000,50000],"nice":false,"zero":false},"axis":null}}},
   {"data":{"name":"boxC"},"mark":{"type":"rect","color":"#000"},
    "encoding":{
     "x":{"field":"SE1","type":"quantitative","scale":{"domain":[522,540],"reverse":true,"nice":false,"zero":false},
          "axis":{"orient":"bottom","values":[523,525,527,529,531,533,535,537,539],"labels":false,"domain":false,"tickSize":4,"title":null}},
     "x2":{"field":"SE2"},
     "y":{"field":"SI1","type":"quantitative","scale":{"domain":[10000,50000],"nice":false,"zero":false},
          "axis":{"orient":"left","values":[15000,25000,35000,45000],"labels":false,"domain":false,"tickSize":4,"title":null}},
     "y2":{"field":"SI2"}}},
   {"data":{"name":"boxC"},"mark":{"type":"rect","fill":"#fff","stroke":"#333","strokeWidth":1},
    "encoding":{
     "x":{"field":"BE1","type":"quantitative","scale":{"domain":[522,540],"reverse":true,"nice":false,"zero":false},"axis":null},
     "x2":{"field":"BE2"},
     "y":{"field":"BI1","type":"quantitative","scale":{"domain":[10000,50000],"nice":false,"zero":false},"axis":null},
     "y2":{"field":"BI2"}}},
   {"data":{"name":"boxC"},"mark":{"type":"text","color":"#e62e2e","font":"Liberation Serif","fontSize":15,"align":"center","baseline":"middle"},
    "encoding":{
     "x":{"field":"TE","type":"quantitative","scale":{"domain":[522,540],"reverse":true,"nice":false,"zero":false},"axis":null},
     "y":{"field":"TI","type":"quantitative","scale":{"domain":[10000,50000],"nice":false,"zero":false},"axis":null},
     "text":{"field":"label"}}},
   {"data":{"name":"labC"},"mark":{"type":"text","color":"#e62e2e","font":"Liberation Serif","fontSize":14,"align":"center","baseline":"alphabetic"},
    "encoding":{
     "x":{"field":"E","type":"quantitative","scale":{"domain":[522,540],"reverse":true,"nice":false,"zero":false},"axis":null},
     "y":{"field":"I","type":"quantitative","scale":{"domain":[10000,50000],"nice":false,"zero":false},"axis":null},
     "text":{"field":"label"}}}
  ]
 }
 ]
}
]
}
